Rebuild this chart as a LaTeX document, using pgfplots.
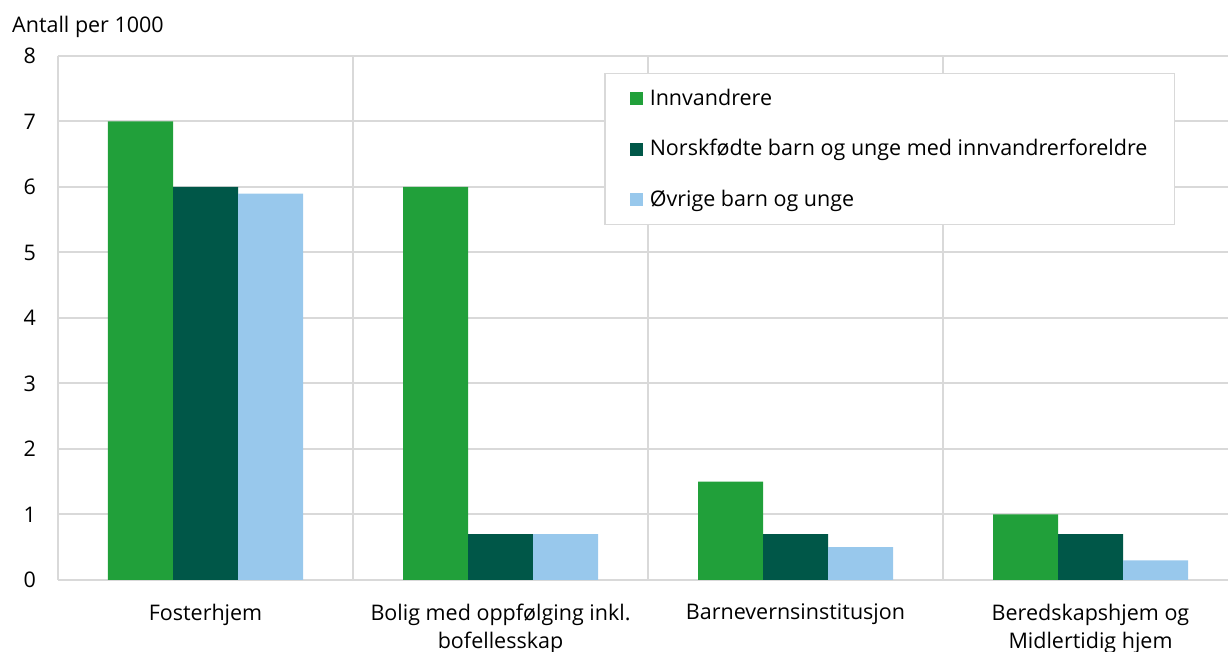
\documentclass[border=0pt]{standalone}
\usepackage{fontspec}
\setmainfont{Open Sans}
\usepackage{pgfplots}
\pgfplotsset{compat=1.18}
\definecolor{cgreen}{RGB}{33,160,58}
\definecolor{cdark}{RGB}{0,87,72}
\definecolor{cblue}{RGB}{152,200,236}
\definecolor{cgrid}{RGB}{217,217,217}
\newcommand{\ff}{\fontsize{21.5}{28}\selectfont}
\begin{document}
\ff
\begin{tikzpicture}
\path[use as bounding box] (-58pt,-72pt) rectangle (1170pt,580pt);
\begin{axis}[
  at={(0pt,0pt)}, anchor=south west,
  scale only axis, width=1170pt, height=524pt,
  ybar=0pt, bar width=65pt,
  xmin=-0.5, xmax=3.466, ymin=0, ymax=8,
  ytick={0,...,8},
  xtick={0,1,2,3},
  xticklabels={Fosterhjem, {Bolig med oppfølging inkl.\\bofellesskap}, Barnevernsinstitusjon, {Beredskapshjem og\\Midlertidig hjem}},
  minor xtick={-0.5,0.5,1.5,2.5},
  ymajorgrids, xminorgrids,
  grid style={cgrid, line width=2pt},
  minor grid style={cgrid, line width=2pt},
  axis line style={draw=none},
  major tick length=0pt, minor tick length=0pt,
  tick style={draw=none},
  /pgf/number format/assume math mode=true,
  tick label style={font=\ff},
  yticklabel style={anchor=east, inner sep=0pt, xshift=-22pt},
  xticklabel style={anchor=north, inner sep=0pt, yshift=-24pt, align=center},
  clip=false,
  legend style={at={(0.4667,0.9676)}, anchor=north west, draw=cgrid, line width=1.5pt, fill=white,
    font=\ff, inner xsep=25pt, inner ysep=13pt, row sep=27pt,
    cells={anchor=west}},
  legend image code/.code={\fill[#1] (0pt,-6.5pt) rectangle (13pt,6.5pt); \path (18pt,0pt);},
  legend cell align=left,
]
\draw[cgrid, line width=2.5pt] (axis cs:-0.5,0) -- (axis cs:3.466,0);
\addplot[fill=cgreen, draw=none] coordinates {(0,7) (1,6) (2,1.5) (3,1)};
\addplot[fill=cdark, draw=none] coordinates {(0,6) (1,0.7) (2,0.7) (3,0.7)};
\addplot[fill=cblue, draw=none] coordinates {(0,5.9) (1,0.7) (2,0.5) (3,0.3)};
\legend{Innvandrere, Norskfødte barn og unge med innvandrerforeldre, Øvrige barn og unge}
\end{axis}
\node[anchor=base west, inner sep=0pt, font=\ff] at (-46pt,547pt) {Antall per 1000};
\end{tikzpicture}
\end{document}
